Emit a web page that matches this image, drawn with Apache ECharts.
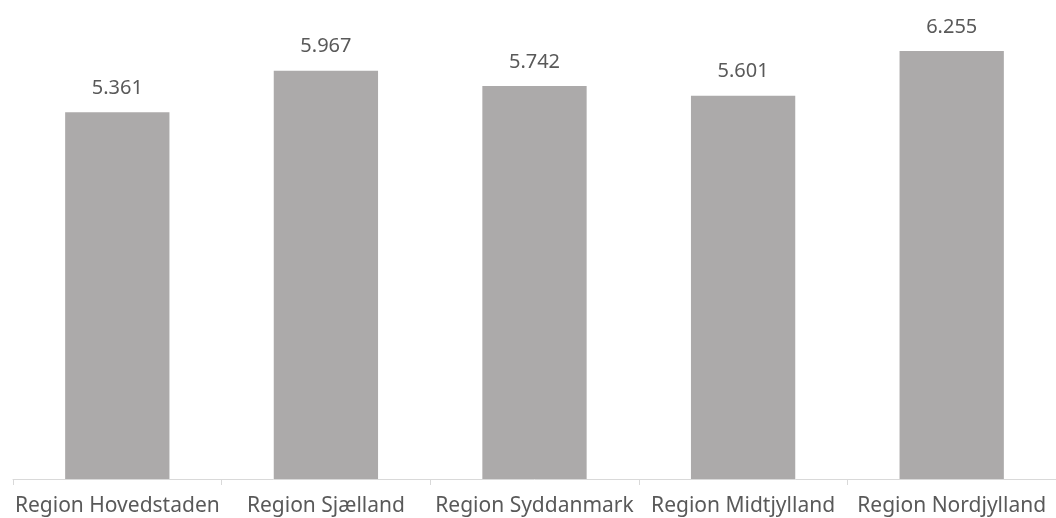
<!DOCTYPE html>
<html><head><meta charset="utf-8">
<script src="https://cdn.jsdelivr.net/npm/echarts@6/dist/echarts.min.js"></script>
<style>html,body{margin:0;padding:0;background:#fff}#c{width:1056px;height:518px}</style>
</head><body><div id="c"></div>
<script>
const categories = ["Region Hovedstaden","Region Sjælland","Region Syddanmark","Region Midtjylland","Region Nordjylland"];
const values = [5.361, 5.967, 5.742, 5.601, 6.255];
const chart = echarts.init(document.getElementById('c'));
chart.setOption({
  animation: false,
  grid: {left: 13, right: 0, top: 0, bottom: 39, containLabel: false},
  xAxis: {
    type: 'category', data: categories,
    axisLine: {lineStyle: {color: '#d9d9d9', width: 1}},
    axisTick: {show: true, length: 6, lineStyle: {color: '#d9d9d9'}},
    axisLabel: {color: '#595959', fontFamily: 'Noto Sans', fontSize: 21, margin: 17, interval: 0}
  },
  yAxis: {type: 'value', min: 0, max: 7, show: false, splitLine: {show: false}},
  series: [{
    type: 'bar', data: values, barWidth: '50%',
    itemStyle: {color: '#acaaaa'},
    label: {show: true, position: 'top', distance: 14, color: '#595959', fontFamily: 'Noto Sans', fontSize: 20,
      formatter: p => p.value.toFixed(3)}
  }]
});
</script></body></html>
